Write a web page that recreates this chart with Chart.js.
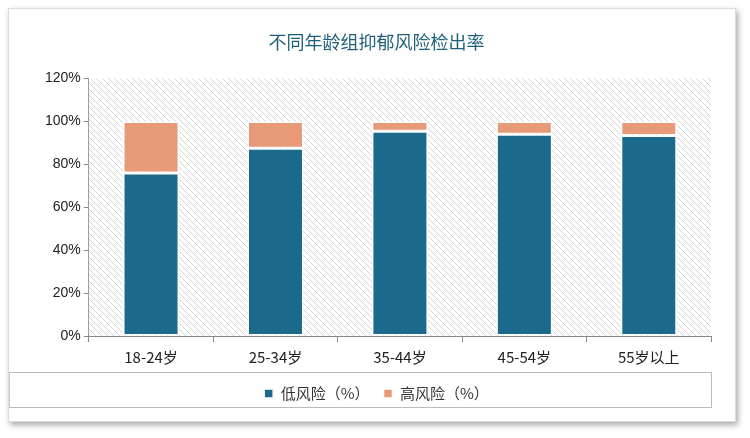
<!DOCTYPE html><html><head><meta charset="utf-8"><script src="https://cdn.jsdelivr.net/npm/chart.js"></script>
<style>body{margin:0;background:#fff}#w{position:absolute;left:8px;top:8px;width:726px;height:412px;border:1px solid #ddd;box-shadow:2px 3px 6px rgba(0,0,0,.35);background:#fff}</style></head><body>
<div id="w"><canvas id="c" width="726" height="412"></canvas></div>
<script>
const categories=['18-24岁','25-34岁','35-44岁','45-54岁','55岁以上'];
const lowRisk=[76,87.5,95.5,94,93.5];
const highRisk=[24,12.5,4.5,6,6.5];
const yTicks=[0,20,40,60,80,100,120];
const pc=document.createElement('canvas');pc.width=6;pc.height=6;const px=pc.getContext('2d');
px.fillStyle='#fff';px.fillRect(0,0,6,6);px.strokeStyle='#d4d4d4';px.lineWidth=1;
px.beginPath();px.moveTo(0,0);px.lineTo(6,6);px.moveTo(-3,3);px.lineTo(3,9);px.moveTo(3,-3);px.lineTo(9,3);px.stroke();
const bg={id:'bg',beforeDatasetsDraw(ch){const a=ch.chartArea,x=ch.ctx;x.save();x.fillStyle=x.createPattern(pc,'repeat');x.fillRect(a.left,a.top,a.right-a.left,a.bottom-a.top);x.restore();},
afterDraw(ch){const l=ch.legend,x=ch.ctx;x.save();x.strokeStyle='#bbb';x.lineWidth=1;x.strokeRect(ch.chartArea.left-80+0.5,l.top+0.5,ch.chartArea.right-ch.chartArea.left+80,l.height-4);x.restore();}};
new Chart(document.getElementById('c'),{type:'bar',data:{labels:categories,datasets:[
{label:'低风险（%）',data:lowRisk,backgroundColor:'#1b6a8c',borderColor:'#fff',borderWidth:1.5,borderSkipped:false},
{label:'高风险（%）',data:highRisk,backgroundColor:'#e89a78',borderColor:'#fff',borderWidth:1.5,borderSkipped:false}]},
plugins:[bg],
options:{responsive:false,animation:false,categoryPercentage:0.45,barPercentage:1,
layout:{padding:{left:33,right:24,top:0,bottom:10}},
plugins:{title:{display:true,text:'不同年龄组抑郁风险检出率',color:'#1f5f7a',font:{size:18,weight:'normal',family:'Noto Sans CJK SC'},padding:{top:22,bottom:26}},
legend:{position:'bottom',labels:{boxWidth:9,boxHeight:9,padding:14,color:'#333',font:{size:15,family:'Noto Sans CJK SC'}}},tooltip:{enabled:false}},
scales:{x:{stacked:true,grid:{display:true,drawOnChartArea:false,offset:true,color:'#888',tickLength:6},border:{color:'#888'},ticks:{color:'#222',font:{size:15,family:'Noto Sans CJK SC'},padding:6}},
y:{stacked:true,min:0,max:120,afterBuildTicks(s){s.ticks=yTicks.map(v=>({value:v}));},grid:{display:true,drawOnChartArea:false,color:'#888',tickLength:5},border:{color:'#888'},ticks:{color:'#222',font:{size:14},callback:v=>v+'%'}}}}});
</script></body></html>
